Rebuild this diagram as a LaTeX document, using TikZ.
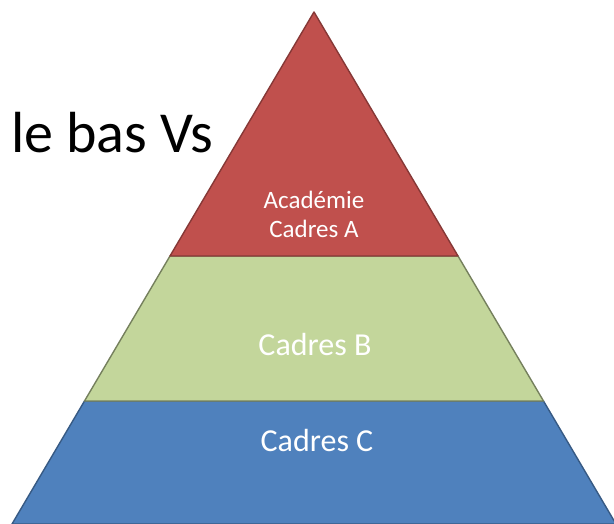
\documentclass[tikz,border=0pt]{standalone}
\usepackage{fontspec}
\setmainfont{Carlito}
\usetikzlibrary{positioning, calc}
\definecolor{tierred}{HTML}{C0504D}
\definecolor{tiergreen}{HTML}{C3D69B}
\definecolor{tierblue}{HTML}{4F81BD}
\tikzset{
  tier/.style={line width=1.4pt, line join=round},
  tiertext/.style={text=white, anchor=base, inner sep=0pt, align=center}
}

\begin{document}
\begin{tikzpicture}[x=1pt, y=-1pt]

\useasboundingbox (0,0) rectangle (614,524);
\clip (0,0) rectangle (614,524);

% corners of the pyramid
\coordinate (top) at (314,12);
\coordinate (AL) at (170,256);
\coordinate (AR) at (458,256);
\coordinate (BL) at (84.5,401);
\coordinate (BR) at (543.5,401);
\coordinate (CL) at (12,524);
\coordinate (CR) at (616,524);

% tiers
\filldraw[tier, fill=tierblue, draw=tierblue!70!black] (BL) -- (BR) -- (CR) -- (CL) -- cycle;
\filldraw[tier, fill=tiergreen, draw=tiergreen!60!black] (AL) -- (AR) -- (BR) -- (BL) -- cycle;
\filldraw[tier, fill=tierred, draw=tierred!70!black] (top) -- (AR) -- (AL) -- cycle;

% labels
\node[tiertext, font=\fontsize{25}{29}\selectfont] (acad) at (314,209) {Académie};
\node[tiertext, font=\fontsize{25}{29}\selectfont] (cadA) at (314,238) {Cadres A};
\node[tiertext, font=\fontsize{32}{38}\selectfont] (cadB) at (315,355) {Cadres B};
\node[tiertext, font=\fontsize{32}{38}\selectfont] (cadC) at (317,451) {Cadres C};

\node[anchor=base west, inner sep=0pt, font=\fontsize{58}{66}\selectfont] (title) at (11,153) {le bas Vs};

\end{tikzpicture}
\end{document}
